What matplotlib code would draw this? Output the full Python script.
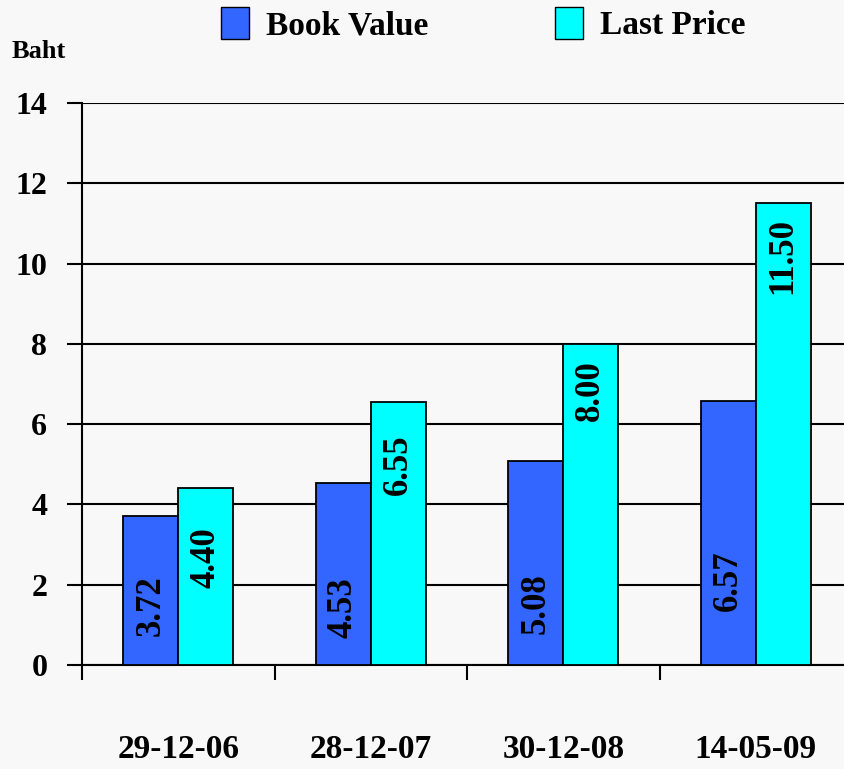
import numpy as np
import matplotlib
matplotlib.use('Agg')
import matplotlib.pyplot as plt
from matplotlib.patches import Patch

dates = ['29-12-06', '28-12-07', '30-12-08', '14-05-09']
book_value = [3.72, 4.53, 5.08, 6.57]
last_price = [4.40, 6.55, 8.00, 11.50]
y_ticks = [0, 2, 4, 6, 8, 10, 12, 14]

# where the rotated value labels sit (centre, in Baht)
bv_label_at = [1.47, 1.44, 1.52, 2.09]
lp_label_at = [2.67, 5.0, 6.83, 10.2]

plt.rcParams['font.family'] = ['Liberation Serif', 'DejaVu Serif']
plt.rcParams['font.weight'] = 'bold'

bg = '#f8f8f8'
blue = '#3366ff'
cyan = '#00ffff'

fig = plt.figure(figsize=(8.44, 7.69), dpi=100, facecolor=bg)
ax = fig.add_axes([82 / 844, 1 - 665 / 769, 770 / 844, 562 / 769])
ax.set_facecolor(bg)

x = np.arange(len(dates))
w = 0.285
ax.bar(x - w / 2, book_value, w, color=blue, edgecolor='black', linewidth=1.3, zorder=3)
ax.bar(x + w / 2, last_price, w, color=cyan, edgecolor='black', linewidth=1.3, zorder=3)

for i in range(len(dates)):
    ax.text(x[i] - w / 2, bv_label_at[i], f'{book_value[i]:.2f}', rotation=90,
            ha='center', va='center', fontsize=25, fontweight='bold', zorder=4)
    ax.text(x[i] + w / 2, lp_label_at[i], f'{last_price[i]:.2f}', rotation=90,
            ha='center', va='center', fontsize=25, fontweight='bold', zorder=4)

ax.set_xlim(-0.5, 3.5)
ax.set_ylim(0, 14)
ax.set_yticks(y_ticks)
ax.set_yticklabels([str(v) for v in y_ticks], fontsize=23, fontweight='bold')
ax.yaxis.grid(True, color='black', linewidth=1.5, zorder=0)
ax.tick_params(axis='y', length=11, width=1.5, pad=14)

ax.set_xticks(x)
ax.set_xticklabels(dates, fontsize=24, fontweight='bold')
ax.set_xticks(np.arange(len(dates)) - 0.5, minor=True)
ax.tick_params(axis='x', which='major', length=0, pad=50)
ax.tick_params(axis='x', which='minor', length=11, width=1.5)

for s in ['top', 'right']:
    ax.spines[s].set_visible(False)
ax.spines['left'].set_linewidth(1.5)
ax.spines['bottom'].set_linewidth(1.5)

fig.text(12 / 844, 1 - 52 / 769, 'Baht', fontsize=19, fontweight='bold', va='center', ha='left')

handles = [Patch(facecolor=blue, edgecolor='black', label='Book Value'),
           Patch(facecolor=cyan, edgecolor='black', label='Last Price')]
fig.legend(handles=handles, loc='center', bbox_to_anchor=(483 / 844, 1 - 24 / 769), ncol=2,
           frameon=False, prop={'size': 24, 'weight': 'bold'}, handlelength=0.85, handleheight=1.1,
           handletextpad=0.5, columnspacing=3.8, borderpad=0.2)

fig.savefig('out.png', dpi=100, facecolor=bg)
